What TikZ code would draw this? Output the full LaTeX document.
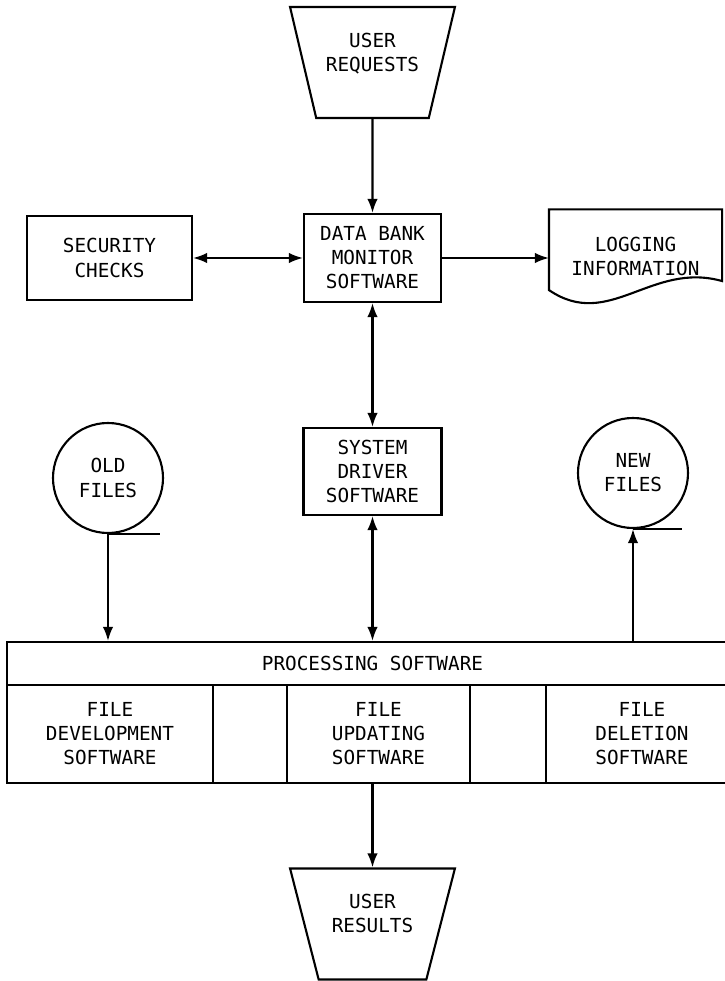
\documentclass[tikz,border=0pt]{standalone}
\usepackage{fontspec}
\setmonofont{DejaVu Sans Mono}
\usetikzlibrary{shapes.geometric, arrows.meta}

\newcommand{\flowfont}{\ttfamily\fontsize{11pt}{13.7pt}\selectfont}

\tikzset{>={Latex[length=2.8mm, width=2.1mm]},
                 box/.style={draw, inner sep=0pt, align=center, font=\flowfont},
                 doc/.style={inner sep=0pt, minimum width=3.42cm, minimum height=1.84cm, align=center, font=\flowfont},
                tape/.style={draw, circle, minimum size=2.2cm, inner sep=0pt, align=center, font=\flowfont},
                cell/.style={draw, minimum height=1.96cm, inner sep=0pt, align=center, font=\flowfont},
                  io/.style={draw, trapezium, trapezium angle=70, shape border rotate=180, trapezium stretches=true,
                             minimum width=3.32cm, minimum height=2.22cm, inner sep=0pt, text depth=0.42cm,
                             align=center, font=\flowfont}}

\begin{document}
\begin{tikzpicture}[line width=1.2pt]
            \useasboundingbox (0, 0) rectangle (14.5, 19.62);

            \node[io]                                             at ( 7.45, 18.37) (requests) {USER\\REQUESTS};
            \node[box, minimum width=3.30cm, minimum height=1.68cm] at ( 2.19, 14.46) (security) {SECURITY\\CHECKS};
            \node[box, minimum width=2.74cm, minimum height=1.76cm] at ( 7.45, 14.46) (monitor)  {DATA BANK\\MONITOR\\SOFTWARE};
            \node[doc]                                            at (12.71, 14.49) (logging)  {LOGGING\\INFORMATION};
            \node[box, minimum width=2.76cm, minimum height=1.74cm] at ( 7.45, 10.19) (driver)   {SYSTEM\\DRIVER\\SOFTWARE};

            \node[tape] at ( 2.16, 10.06) (oldfiles) {OLD\\FILES};
            \node[tape] at (12.66, 10.16) (newfiles) {NEW\\FILES};

            \node[box, minimum width=14.62cm, minimum height=0.86cm] at ( 7.45,  6.35) (process) {PROCESSING SOFTWARE};
            \node[cell, minimum width=4.12cm] at ( 2.20,  4.94) (development) {FILE\\DEVELOPMENT\\SOFTWARE};
            \node[cell, minimum width=1.48cm] at ( 5.00,  4.94) (gapleft)     {};
            \node[cell, minimum width=3.66cm] at ( 7.57,  4.94) (updating)    {FILE\\UPDATING\\SOFTWARE};
            \node[cell, minimum width=1.52cm] at (10.16,  4.94) (gapright)    {};
            \node[cell, minimum width=3.84cm] at (12.84,  4.94) (deletion)    {FILE\\DELETION\\SOFTWARE};

            \node[io] at ( 7.45,  1.14) (results) {USER\\RESULTS};

            \draw (logging.north west)
                -- (logging.north east)
                -- ([yshift=4.5mm]logging.south east)
                .. controls ([xshift=-14.2mm, yshift=8.5mm]logging.south east)
                        and ([xshift=12mm, yshift=-5.5mm]logging.south west)
                .. ([yshift=2.7mm]logging.south west)
                -- cycle;

            \draw (oldfiles.south) -- ++(1.04, 0);
            \draw (newfiles.south) -- ++(0.98, 0);

            \draw[->]  (requests) -- (monitor);
            \draw[<->] (security) -- (monitor);
            \draw[->]  (monitor)  -- (monitor -| logging.west);
            \draw[<->] (monitor)  -- (driver);
            \draw[<->] (driver)   -- (driver |- process.north);
            \draw[->]  (oldfiles.south) -- (oldfiles.south |- process.north);
            \draw[->]  (newfiles.south |- process.north) -- (newfiles.south);
            \draw[->]  (updating.south -| results.north) -- (results.north);
\end{tikzpicture}
\end{document}
